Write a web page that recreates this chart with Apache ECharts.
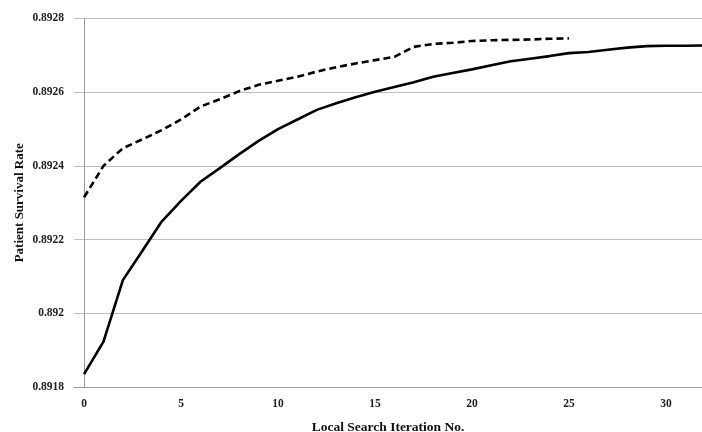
<!DOCTYPE html>
<html>
<head>
<meta charset="utf-8">
<script src="https://cdn.jsdelivr.net/npm/echarts@6/dist/echarts.min.js"></script>
<style>
html,body{margin:0;padding:0;background:#fff;}
#chart{width:702px;height:432px;}
</style>
</head>
<body>
<div id="chart"></div>
<script>
const iterations = [0,1,2,3,4,5,6,7,8,9,10,11,12,13,14,15,16,17,18,19,20,21,22,23,24,25,26,27,28,29,30,31,32];
const solidValues = [0.891835,0.891923,0.892090,0.892169,0.892249,0.892305,0.892357,0.892394,0.892432,0.892468,0.892500,0.892526,0.892552,0.892570,0.892586,0.892601,0.892614,0.892627,0.892642,0.892652,0.892662,0.892673,0.892684,0.892691,0.892698,0.892706,0.892709,0.892715,0.892721,0.892725,0.892726,0.892726,0.892727];
const dashedValues = [0.892315,0.892400,0.892448,0.892472,0.892497,0.892526,0.892561,0.892581,0.892603,0.892620,0.892631,0.892642,0.892656,0.892668,0.892678,0.892687,0.892696,0.892723,0.892731,0.892734,0.892739,0.892741,0.892742,0.892743,0.892745,0.892746];
const xTickLabels = [0,5,10,15,20,25,30];
const yMin = 0.8918, yMax = 0.8928, yStep = 0.0002;

const font = "'Liberation Serif','Times New Roman',serif";
const chart = echarts.init(document.getElementById('chart'), null, {renderer:'canvas'});
chart.setOption({
  animation: false,
  backgroundColor: '#fff',
  grid: {left: 74, right: 0, top: 18.5, bottom: 45, containLabel: false, outerBoundsMode: 'none'},
  xAxis: {
    type: 'value',
    min: -0.52, max: 31.86,
    name: 'Local Search Iteration No.',
    nameLocation: 'middle',
    nameGap: 34,
    nameMoveOverlap: false,
    nameTextStyle: {fontFamily: font, fontWeight: 'bold', fontSize: 13.5, color: '#111'},
    axisLine: {show: true, onZero: false, lineStyle: {color: '#999', width: 1}},
    axisTick: {show: false},
    splitLine: {show: false},
    axisLabel: {customValues: xTickLabels, margin: 11, fontFamily: font, fontWeight: 'bold', fontSize: 11.5, color: '#222'}
  },
  yAxis: {
    type: 'value',
    min: yMin, max: yMax, interval: yStep,
    name: 'Patient Survival Rate',
    nameLocation: 'middle',
    nameGap: 48,
    nameMoveOverlap: false,
    nameTextStyle: {fontFamily: font, fontWeight: 'bold', fontSize: 13, color: '#111'},
    axisLine: {show: true, lineStyle: {color: '#999', width: 1}},
    axisTick: {show: false},
    splitLine: {show: true, lineStyle: {color: '#c0c0c0', width: 1}},
    axisLabel: {margin: 10, fontFamily: font, fontWeight: 'bold', fontSize: 11.5, color: '#222',
      formatter: v => String(+(+v).toFixed(4))}
  },
  series: [
    {
      name: 'Solid', type: 'line', symbol: 'none', smooth: false,
      data: iterations.map((x, i) => [x, solidValues[i]]),
      lineStyle: {color: '#000', width: 2.6}
    },
    {
      name: 'Dashed', type: 'line', symbol: 'none', smooth: false,
      data: dashedValues.map((v, i) => [iterations[i], v]),
      lineStyle: {color: '#000', width: 2.6, type: [7, 4]}
    }
  ]
});
</script>
</body>
</html>
